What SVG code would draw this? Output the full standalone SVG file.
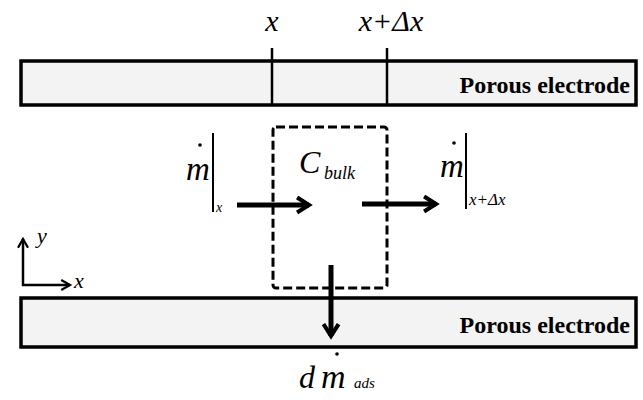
<svg xmlns="http://www.w3.org/2000/svg" width="643" height="400" viewBox="0 0 643 400">
<defs>
<marker id="ah" viewBox="0 0 10 10" refX="7.5" refY="5" markerWidth="3.4" markerHeight="3.8" orient="auto" markerUnits="strokeWidth">
<path d="M1.5,1.2 L7.5,5 L1.5,8.8" fill="none" stroke="#000" stroke-width="2.4" stroke-linecap="square"/>
</marker>
<marker id="ahs" viewBox="0 0 10 10" refX="8" refY="5" markerWidth="5" markerHeight="5" orient="auto" markerUnits="strokeWidth">
<path d="M1,1 L8,5 L1,9" fill="none" stroke="#000" stroke-width="1.8"/>
</marker>
</defs>
<g id="top-electrode">
<rect x="21" y="61" width="615" height="44" fill="#f3f3f3" stroke="#000" stroke-width="3.5"/>
<text x="630" y="93" font-family="Liberation Serif" font-size="24" font-weight="bold" text-anchor="end">Porous electrode</text>
</g>
<g id="bottom-electrode">
<rect x="21" y="298" width="615" height="49" fill="#f3f3f3" stroke="#000" stroke-width="3.5"/>
<text x="630" y="333" font-family="Liberation Serif" font-size="24" font-weight="bold" text-anchor="end">Porous electrode</text>
</g>
<g id="position-lines">
<line x1="272" y1="48" x2="272" y2="105" stroke="#000" stroke-width="2.5"/>
<line x1="387" y1="48" x2="387" y2="105" stroke="#000" stroke-width="2.5"/>
<text x="272" y="31" font-family="Liberation Serif" font-style="italic" font-size="30" text-anchor="middle">x</text>
<text x="391" y="31" font-family="Liberation Serif" font-style="italic" font-size="30" text-anchor="middle">x+Δx</text>
</g>
<g id="control-volume">
<rect x="273" y="127" width="114" height="161" rx="3" fill="none" stroke="#000" stroke-width="3" stroke-dasharray="9,4"/>
<text x="299" y="173" font-family="Liberation Serif" font-style="italic" font-size="32">C</text>
<text x="324" y="179" font-family="Liberation Serif" font-style="italic" font-size="18">bulk</text>
</g>
<g id="inflow-label">
<text x="186" y="180" font-family="Liberation Serif" font-style="italic" font-size="33">m</text>
<circle cx="200" cy="145" r="1.8"/>
<line x1="213" y1="133" x2="213" y2="212" stroke="#000" stroke-width="2"/>
<text x="216" y="212" font-family="Liberation Serif" font-style="italic" font-size="14">x</text>
</g>
<g id="outflow-label">
<text x="440" y="177" font-family="Liberation Serif" font-style="italic" font-size="33">m</text>
<circle cx="454" cy="143" r="1.8"/>
<line x1="466" y1="133" x2="466" y2="209" stroke="#000" stroke-width="2"/>
<text x="469" y="205" font-family="Liberation Serif" font-style="italic" font-size="17">x+Δx</text>
</g>
<g id="adsorption-label">
<circle cx="337" cy="354" r="1.8"/>
<text x="299" y="388" font-family="Liberation Serif" font-style="italic" font-size="32">d</text>
<text x="321" y="388" font-family="Liberation Serif" font-style="italic" font-size="34">m</text>
<text x="354" y="388" font-family="Liberation Serif" font-style="italic" font-size="15">ads</text>
</g>
<g id="axes">
<line x1="23" y1="286" x2="23" y2="239" stroke="#000" stroke-width="2.5" marker-end="url(#ahs)"/>
<line x1="22" y1="285" x2="70" y2="285" stroke="#000" stroke-width="2.5" marker-end="url(#ahs)"/>
<text x="37" y="243" font-family="Liberation Serif" font-style="italic" font-size="22">y</text>
<text x="74" y="288" font-family="Liberation Serif" font-style="italic" font-size="22">x</text>
</g>
<g id="connectors">
<line x1="237" y1="205" x2="309" y2="205" stroke="#000" stroke-width="5" marker-end="url(#ah)"/>
<line x1="362" y1="204" x2="436" y2="204" stroke="#000" stroke-width="5" marker-end="url(#ah)"/>
<line x1="331" y1="265" x2="331" y2="336" stroke="#000" stroke-width="5" marker-end="url(#ah)"/>
</g>
</svg>
